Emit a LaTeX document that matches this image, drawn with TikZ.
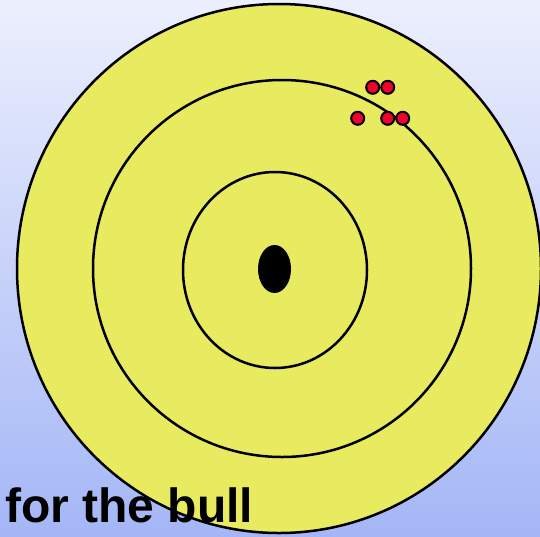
\documentclass[tikz,border=0pt]{standalone}
\usepackage{fontspec}
\setmainfont{Liberation Sans}
\usepackage{tikz}
\definecolor{bgtop}{HTML}{ECEFFD}
\definecolor{bgbottom}{HTML}{A4B6F6}
\definecolor{target}{HTML}{E8EB60}
\definecolor{shot}{HTML}{F2002E}
\begin{document}
\begin{tikzpicture}[x=1pt,y=-1pt]
      \shade[top color=bgtop,bottom color=bgbottom] (0,0) rectangle (540,536);
      \useasboundingbox (0,0) rectangle (540,536);
      \draw[line width=2.5pt,fill=target] (279,268.5) ellipse (262 and 264.5);
      \draw[line width=2.5pt] (282,268.5) ellipse (189 and 188.5);
      \draw[line width=2.5pt] (275,270) ellipse (92 and 98);
      \fill (274.5,269) ellipse (16.5 and 24);
      \foreach \x/\y in {372.7/87.3, 387.7/87.3, 357.7/118.3, 387.7/118.3, 402.7/118.3}
        \draw[line width=2pt,fill=shot] (\x,\y) circle (6.5);
      \node[font=\fontsize{48}{58}\selectfont\bfseries,anchor=base west,inner sep=0pt] (caption) at (5,522) {for the bull};
    \end{tikzpicture}
\end{document}
